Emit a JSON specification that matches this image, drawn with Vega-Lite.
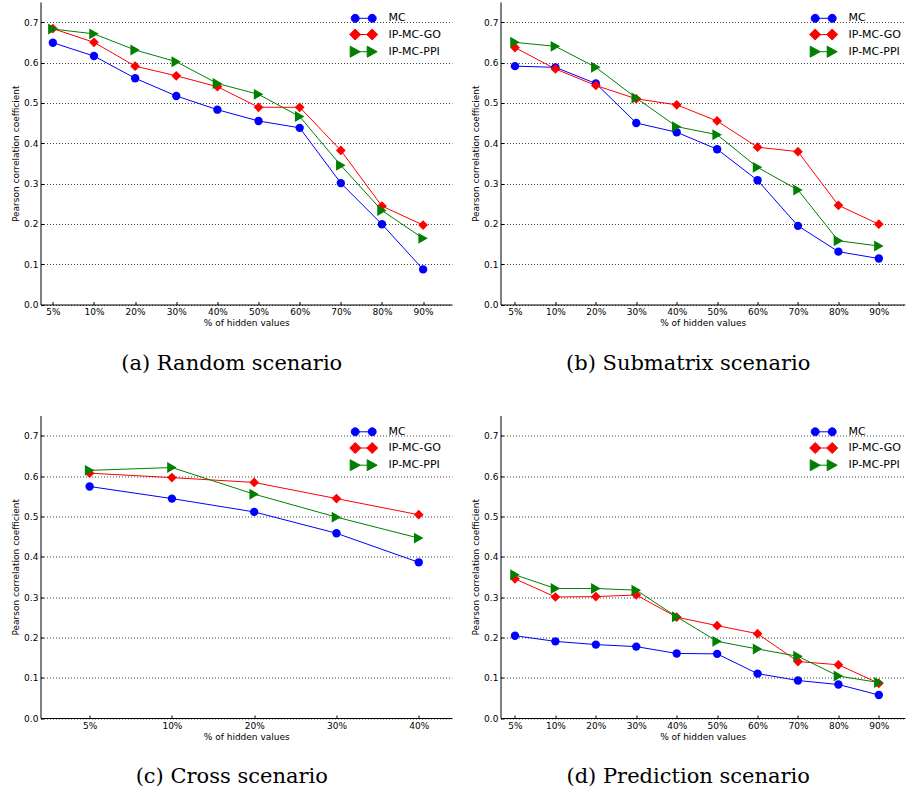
{
  "$schema": "https://vega.github.io/schema/vega-lite/v6.json",
  "padding": {"left": 11.5, "top": 2, "right": 0, "bottom": 0},
  "background": "white",
  "config": {
    "view": {"stroke": null},
    "font": "DejaVu Sans",
    "axis": {
      "labelFont": "DejaVu Sans", "titleFont": "DejaVu Sans",
      "labelFontSize": 9, "titleFontSize": 9, "titleFontWeight": "normal",
      "labelColor": "#000", "titleColor": "#000",
      "domainColor": "#000", "domainWidth": 1, "tickColor": "#000", "tickWidth": 1, "tickSize": -3
    },
    "axisX": {"grid": false, "labelAngle": 0, "labelPadding": 6, "titlePadding": 2, "zindex": 2},
    "axisY": {"gridColor": "#000", "gridOpacity": 0.75, "gridDash": [1, 2], "gridWidth": 1, "labelPadding": 5.6, "titlePadding": 3},
    "title": {"font": "DejaVu Serif", "fontSize": 21, "fontWeight": "normal", "orient": "bottom", "anchor": "middle", "frame": "bounds", "offset": 25, "color": "#000"},
    "legend": {"labelFont": "DejaVu Sans", "labelFontSize": 11, "labelColor": "#000", "title": null, "orient": "none", "legendX": 317.7, "legendY": 10.8, "rowPadding": 2.2, "labelOffset": 19.3, "symbolSize": 4, "symbolStrokeWidth": 1, "symbolOpacity": 1, "padding": 0}
  },
  "datasets": {
    "a": [
      {"x": "5%", "series": "MC", "v": 0.649}, {"x": "10%", "series": "MC", "v": 0.616}, {"x": "20%", "series": "MC", "v": 0.561}, {"x": "30%", "series": "MC", "v": 0.517}, {"x": "40%", "series": "MC", "v": 0.483}, {"x": "50%", "series": "MC", "v": 0.455}, {"x": "60%", "series": "MC", "v": 0.438}, {"x": "70%", "series": "MC", "v": 0.301}, {"x": "80%", "series": "MC", "v": 0.199}, {"x": "90%", "series": "MC", "v": 0.087},
      {"x": "5%", "series": "IP-MC-GO", "v": 0.684}, {"x": "10%", "series": "IP-MC-GO", "v": 0.65}, {"x": "20%", "series": "IP-MC-GO", "v": 0.591}, {"x": "30%", "series": "IP-MC-GO", "v": 0.567}, {"x": "40%", "series": "IP-MC-GO", "v": 0.54}, {"x": "50%", "series": "IP-MC-GO", "v": 0.489}, {"x": "60%", "series": "IP-MC-GO", "v": 0.489}, {"x": "70%", "series": "IP-MC-GO", "v": 0.382}, {"x": "80%", "series": "IP-MC-GO", "v": 0.244}, {"x": "90%", "series": "IP-MC-GO", "v": 0.197},
      {"x": "5%", "series": "IP-MC-PPI", "v": 0.683}, {"x": "10%", "series": "IP-MC-PPI", "v": 0.671}, {"x": "20%", "series": "IP-MC-PPI", "v": 0.631}, {"x": "30%", "series": "IP-MC-PPI", "v": 0.602}, {"x": "40%", "series": "IP-MC-PPI", "v": 0.548}, {"x": "50%", "series": "IP-MC-PPI", "v": 0.521}, {"x": "60%", "series": "IP-MC-PPI", "v": 0.466}, {"x": "70%", "series": "IP-MC-PPI", "v": 0.345}, {"x": "80%", "series": "IP-MC-PPI", "v": 0.233}, {"x": "90%", "series": "IP-MC-PPI", "v": 0.164}
    ],
    "b": [
      {"x": "5%", "series": "MC", "v": 0.591}, {"x": "10%", "series": "MC", "v": 0.588}, {"x": "20%", "series": "MC", "v": 0.548}, {"x": "30%", "series": "MC", "v": 0.45}, {"x": "40%", "series": "MC", "v": 0.427}, {"x": "50%", "series": "MC", "v": 0.385}, {"x": "60%", "series": "MC", "v": 0.308}, {"x": "70%", "series": "MC", "v": 0.195}, {"x": "80%", "series": "MC", "v": 0.131}, {"x": "90%", "series": "MC", "v": 0.114},
      {"x": "5%", "series": "IP-MC-GO", "v": 0.637}, {"x": "10%", "series": "IP-MC-GO", "v": 0.584}, {"x": "20%", "series": "IP-MC-GO", "v": 0.543}, {"x": "30%", "series": "IP-MC-GO", "v": 0.51}, {"x": "40%", "series": "IP-MC-GO", "v": 0.495}, {"x": "50%", "series": "IP-MC-GO", "v": 0.455}, {"x": "60%", "series": "IP-MC-GO", "v": 0.39}, {"x": "70%", "series": "IP-MC-GO", "v": 0.379}, {"x": "80%", "series": "IP-MC-GO", "v": 0.246}, {"x": "90%", "series": "IP-MC-GO", "v": 0.199},
      {"x": "5%", "series": "IP-MC-PPI", "v": 0.65}, {"x": "10%", "series": "IP-MC-PPI", "v": 0.64}, {"x": "20%", "series": "IP-MC-PPI", "v": 0.588}, {"x": "30%", "series": "IP-MC-PPI", "v": 0.512}, {"x": "40%", "series": "IP-MC-PPI", "v": 0.441}, {"x": "50%", "series": "IP-MC-PPI", "v": 0.421}, {"x": "60%", "series": "IP-MC-PPI", "v": 0.34}, {"x": "70%", "series": "IP-MC-PPI", "v": 0.284}, {"x": "80%", "series": "IP-MC-PPI", "v": 0.158}, {"x": "90%", "series": "IP-MC-PPI", "v": 0.145}
    ],
    "c": [
      {"x": "5%", "series": "MC", "v": 0.574}, {"x": "10%", "series": "MC", "v": 0.544}, {"x": "20%", "series": "MC", "v": 0.511}, {"x": "30%", "series": "MC", "v": 0.458}, {"x": "40%", "series": "MC", "v": 0.386},
      {"x": "5%", "series": "IP-MC-GO", "v": 0.607}, {"x": "10%", "series": "IP-MC-GO", "v": 0.596}, {"x": "20%", "series": "IP-MC-GO", "v": 0.584}, {"x": "30%", "series": "IP-MC-GO", "v": 0.544}, {"x": "40%", "series": "IP-MC-GO", "v": 0.504},
      {"x": "5%", "series": "IP-MC-PPI", "v": 0.614}, {"x": "10%", "series": "IP-MC-PPI", "v": 0.621}, {"x": "20%", "series": "IP-MC-PPI", "v": 0.555}, {"x": "30%", "series": "IP-MC-PPI", "v": 0.498}, {"x": "40%", "series": "IP-MC-PPI", "v": 0.446}
    ],
    "d": [
      {"x": "5%", "series": "MC", "v": 0.204}, {"x": "10%", "series": "MC", "v": 0.19}, {"x": "20%", "series": "MC", "v": 0.182}, {"x": "30%", "series": "MC", "v": 0.177}, {"x": "40%", "series": "MC", "v": 0.16}, {"x": "50%", "series": "MC", "v": 0.159}, {"x": "60%", "series": "MC", "v": 0.11}, {"x": "70%", "series": "MC", "v": 0.093}, {"x": "80%", "series": "MC", "v": 0.083}, {"x": "90%", "series": "MC", "v": 0.057},
      {"x": "5%", "series": "IP-MC-GO", "v": 0.345}, {"x": "10%", "series": "IP-MC-GO", "v": 0.3}, {"x": "20%", "series": "IP-MC-GO", "v": 0.301}, {"x": "30%", "series": "IP-MC-GO", "v": 0.305}, {"x": "40%", "series": "IP-MC-GO", "v": 0.25}, {"x": "50%", "series": "IP-MC-GO", "v": 0.229}, {"x": "60%", "series": "IP-MC-GO", "v": 0.209}, {"x": "70%", "series": "IP-MC-GO", "v": 0.14}, {"x": "80%", "series": "IP-MC-GO", "v": 0.132}, {"x": "90%", "series": "IP-MC-GO", "v": 0.086},
      {"x": "5%", "series": "IP-MC-PPI", "v": 0.355}, {"x": "10%", "series": "IP-MC-PPI", "v": 0.321}, {"x": "20%", "series": "IP-MC-PPI", "v": 0.321}, {"x": "30%", "series": "IP-MC-PPI", "v": 0.317}, {"x": "40%", "series": "IP-MC-PPI", "v": 0.251}, {"x": "50%", "series": "IP-MC-PPI", "v": 0.19}, {"x": "60%", "series": "IP-MC-PPI", "v": 0.171}, {"x": "70%", "series": "IP-MC-PPI", "v": 0.153}, {"x": "80%", "series": "IP-MC-PPI", "v": 0.104}, {"x": "90%", "series": "IP-MC-PPI", "v": 0.088}
    ]
  },
  "spacing": 41.5,
  "resolve": {"scale": {"color": "independent", "shape": "independent", "size": "independent", "stroke": "independent", "x": "independent", "y": "independent"}, "legend": {"color": "independent", "shape": "independent", "size": "independent", "stroke": "independent"}},
  "vconcat": [
    {
      "spacing": 19,
      "resolve": {"scale": {"color": "independent", "shape": "independent", "size": "independent", "stroke": "independent", "x": "independent", "y": "independent"}, "legend": {"color": "independent", "shape": "independent", "size": "independent", "stroke": "independent"}},
      "hconcat": [
        {
          "width": 411.4, "height": 302.5,
          "data": {"name": "a"},
          "title": {"text": "(a) Random scenario"},
          "resolve": {"scale": {"color": "independent", "shape": "independent", "stroke": "independent", "size": "independent"}},
          "encoding": {
            "x": {"field": "x", "type": "ordinal", "scale": {"type": "point", "domain": ["5%", "10%", "20%", "30%", "40%", "50%", "60%", "70%", "80%", "90%"], "paddingOuter": 0.5, "align": 0.3}, "axis": {"title": "% of hidden values"}},
            "y": {"field": "v", "type": "quantitative", "scale": {"domain": [0, 0.75], "nice": false}, "axis": {"title": "Pearson correlation coefficient", "values": [0, 0.1, 0.2, 0.3, 0.4, 0.5, 0.6, 0.7], "format": ".1f"}}
          },
          "layer": [
            {"mark": {"type": "line", "strokeWidth": 1},
             "encoding": {"order": {"value": null},
               "color": {"field": "series", "type": "nominal", "scale": {"domain": ["MC", "IP-MC-GO", "IP-MC-PPI"], "range": ["#0000ff", "#ff0000", "#008000"]}, "legend": null}}},
            {"mark": {"type": "point", "filled": true, "opacity": 1},
             "encoding": {
               "color": {"field": "series", "type": "nominal", "scale": {"domain": ["MC", "IP-MC-GO", "IP-MC-PPI"], "range": ["#0000ff", "#ff0000", "#008000"]}, "legend": null},
               "shape": {"field": "series", "type": "nominal", "scale": {"domain": ["MC", "IP-MC-GO", "IP-MC-PPI"], "range": ["circle", "diamond", "triangle-right"]}, "legend": null},
               "size": {"field": "series", "type": "nominal", "scale": {"domain": ["MC", "IP-MC-GO", "IP-MC-PPI"], "range": [70, 120, 100]}, "legend": null}}},
            {"transform": [{"filter": "datum.v < 0"}],
             "mark": {"type": "point", "filled": true, "opacity": 1},
             "encoding": {
               "color": {"field": "series", "type": "nominal", "scale": {"domain": ["MC", "IP-MC-GO", "IP-MC-PPI"], "range": ["#0000ff", "#ff0000", "#008000"]}, "legend": {}},
               "stroke": {"field": "series", "type": "nominal", "scale": {"domain": ["MC", "IP-MC-GO", "IP-MC-PPI"], "range": ["#0000ff", "#ff0000", "#008000"]}, "legend": {}},
               "shape": {"field": "series", "type": "nominal", "scale": {"domain": ["MC", "IP-MC-GO", "IP-MC-PPI"], "range": ["M-12.5,0A4,4 0 1,0 -4.5,0A4,4 0 1,0 -12.5,0ZM4.5,0A4,4 0 1,0 12.5,0A4,4 0 1,0 4.5,0ZM-8.5,0L8.5,0", "M-14,0L-8.5,-5.5L-3,0L-8.5,5.5ZM3,0L8.5,-5.5L14,0L8.5,5.5ZM-8.5,0L8.5,0", "M-13.5,-5.5L-3.5,0L-13.5,5.5ZM3.5,-5.5L13.5,0L3.5,5.5ZM-8.5,0L8.5,0"]}, "legend": {}}}}
          ]
        },
        {
          "width": 404.3, "height": 302.5,
          "data": {"name": "b"},
          "title": {"text": "(b) Submatrix scenario"},
          "resolve": {"scale": {"color": "independent", "shape": "independent", "stroke": "independent", "size": "independent"}},
          "encoding": {
            "x": {"field": "x", "type": "ordinal", "scale": {"type": "point", "domain": ["5%", "10%", "20%", "30%", "40%", "50%", "60%", "70%", "80%", "90%"], "paddingOuter": 0.4185, "align": 0.358}, "axis": {"title": "% of hidden values"}},
            "y": {"field": "v", "type": "quantitative", "scale": {"domain": [0, 0.75], "nice": false}, "axis": {"title": "Pearson correlation coefficient", "values": [0, 0.1, 0.2, 0.3, 0.4, 0.5, 0.6, 0.7], "format": ".1f"}}
          },
          "layer": [
            {"mark": {"type": "line", "strokeWidth": 1},
             "encoding": {"order": {"value": null},
               "color": {"field": "series", "type": "nominal", "scale": {"domain": ["MC", "IP-MC-GO", "IP-MC-PPI"], "range": ["#0000ff", "#ff0000", "#008000"]}, "legend": null}}},
            {"mark": {"type": "point", "filled": true, "opacity": 1},
             "encoding": {
               "color": {"field": "series", "type": "nominal", "scale": {"domain": ["MC", "IP-MC-GO", "IP-MC-PPI"], "range": ["#0000ff", "#ff0000", "#008000"]}, "legend": null},
               "shape": {"field": "series", "type": "nominal", "scale": {"domain": ["MC", "IP-MC-GO", "IP-MC-PPI"], "range": ["circle", "diamond", "triangle-right"]}, "legend": null},
               "size": {"field": "series", "type": "nominal", "scale": {"domain": ["MC", "IP-MC-GO", "IP-MC-PPI"], "range": [70, 120, 100]}, "legend": null}}},
            {"transform": [{"filter": "datum.v < 0"}],
             "mark": {"type": "point", "filled": true, "opacity": 1},
             "encoding": {
               "color": {"field": "series", "type": "nominal", "scale": {"domain": ["MC", "IP-MC-GO", "IP-MC-PPI"], "range": ["#0000ff", "#ff0000", "#008000"]}, "legend": {}},
               "stroke": {"field": "series", "type": "nominal", "scale": {"domain": ["MC", "IP-MC-GO", "IP-MC-PPI"], "range": ["#0000ff", "#ff0000", "#008000"]}, "legend": {}},
               "shape": {"field": "series", "type": "nominal", "scale": {"domain": ["MC", "IP-MC-GO", "IP-MC-PPI"], "range": ["M-12.5,0A4,4 0 1,0 -4.5,0A4,4 0 1,0 -12.5,0ZM4.5,0A4,4 0 1,0 12.5,0A4,4 0 1,0 4.5,0ZM-8.5,0L8.5,0", "M-14,0L-8.5,-5.5L-3,0L-8.5,5.5ZM3,0L8.5,-5.5L14,0L8.5,5.5ZM-8.5,0L8.5,0", "M-13.5,-5.5L-3.5,0L-13.5,5.5ZM3.5,-5.5L13.5,0L3.5,5.5ZM-8.5,0L8.5,0"]}, "legend": {}}}}
          ]
        }
      ]
    },
    {
      "spacing": 19,
      "resolve": {"scale": {"color": "independent", "shape": "independent", "size": "independent", "stroke": "independent", "x": "independent", "y": "independent"}, "legend": {"color": "independent", "shape": "independent", "size": "independent", "stroke": "independent"}},
      "hconcat": [
        {
          "width": 411.4, "height": 302.5,
          "data": {"name": "c"},
          "title": {"text": "(c) Cross scenario"},
          "resolve": {"scale": {"color": "independent", "shape": "independent", "stroke": "independent", "size": "independent"}},
          "encoding": {
            "x": {"field": "x", "type": "ordinal", "scale": {"type": "point", "domain": ["5%", "10%", "20%", "30%", "40%"], "paddingOuter": 0.254, "align": 0.597}, "axis": {"title": "% of hidden values"}},
            "y": {"field": "v", "type": "quantitative", "scale": {"domain": [0, 0.75], "nice": false}, "axis": {"title": "Pearson correlation coefficient", "values": [0, 0.1, 0.2, 0.3, 0.4, 0.5, 0.6, 0.7], "format": ".1f"}}
          },
          "layer": [
            {"mark": {"type": "line", "strokeWidth": 1},
             "encoding": {"order": {"value": null},
               "color": {"field": "series", "type": "nominal", "scale": {"domain": ["MC", "IP-MC-GO", "IP-MC-PPI"], "range": ["#0000ff", "#ff0000", "#008000"]}, "legend": null}}},
            {"mark": {"type": "point", "filled": true, "opacity": 1},
             "encoding": {
               "color": {"field": "series", "type": "nominal", "scale": {"domain": ["MC", "IP-MC-GO", "IP-MC-PPI"], "range": ["#0000ff", "#ff0000", "#008000"]}, "legend": null},
               "shape": {"field": "series", "type": "nominal", "scale": {"domain": ["MC", "IP-MC-GO", "IP-MC-PPI"], "range": ["circle", "diamond", "triangle-right"]}, "legend": null},
               "size": {"field": "series", "type": "nominal", "scale": {"domain": ["MC", "IP-MC-GO", "IP-MC-PPI"], "range": [70, 120, 100]}, "legend": null}}},
            {"transform": [{"filter": "datum.v < 0"}],
             "mark": {"type": "point", "filled": true, "opacity": 1},
             "encoding": {
               "color": {"field": "series", "type": "nominal", "scale": {"domain": ["MC", "IP-MC-GO", "IP-MC-PPI"], "range": ["#0000ff", "#ff0000", "#008000"]}, "legend": {}},
               "stroke": {"field": "series", "type": "nominal", "scale": {"domain": ["MC", "IP-MC-GO", "IP-MC-PPI"], "range": ["#0000ff", "#ff0000", "#008000"]}, "legend": {}},
               "shape": {"field": "series", "type": "nominal", "scale": {"domain": ["MC", "IP-MC-GO", "IP-MC-PPI"], "range": ["M-12.5,0A4,4 0 1,0 -4.5,0A4,4 0 1,0 -12.5,0ZM4.5,0A4,4 0 1,0 12.5,0A4,4 0 1,0 4.5,0ZM-8.5,0L8.5,0", "M-14,0L-8.5,-5.5L-3,0L-8.5,5.5ZM3,0L8.5,-5.5L14,0L8.5,5.5ZM-8.5,0L8.5,0", "M-13.5,-5.5L-3.5,0L-13.5,5.5ZM3.5,-5.5L13.5,0L3.5,5.5ZM-8.5,0L8.5,0"]}, "legend": {}}}}
          ]
        },
        {
          "width": 404.3, "height": 302.5,
          "data": {"name": "d"},
          "title": {"text": "(d) Prediction scenario"},
          "resolve": {"scale": {"color": "independent", "shape": "independent", "stroke": "independent", "size": "independent"}},
          "encoding": {
            "x": {"field": "x", "type": "ordinal", "scale": {"type": "point", "domain": ["5%", "10%", "20%", "30%", "40%", "50%", "60%", "70%", "80%", "90%"], "paddingOuter": 0.4185, "align": 0.358}, "axis": {"title": "% of hidden values"}},
            "y": {"field": "v", "type": "quantitative", "scale": {"domain": [0, 0.75], "nice": false}, "axis": {"title": "Pearson correlation coefficient", "values": [0, 0.1, 0.2, 0.3, 0.4, 0.5, 0.6, 0.7], "format": ".1f"}}
          },
          "layer": [
            {"mark": {"type": "line", "strokeWidth": 1},
             "encoding": {"order": {"value": null},
               "color": {"field": "series", "type": "nominal", "scale": {"domain": ["MC", "IP-MC-GO", "IP-MC-PPI"], "range": ["#0000ff", "#ff0000", "#008000"]}, "legend": null}}},
            {"mark": {"type": "point", "filled": true, "opacity": 1},
             "encoding": {
               "color": {"field": "series", "type": "nominal", "scale": {"domain": ["MC", "IP-MC-GO", "IP-MC-PPI"], "range": ["#0000ff", "#ff0000", "#008000"]}, "legend": null},
               "shape": {"field": "series", "type": "nominal", "scale": {"domain": ["MC", "IP-MC-GO", "IP-MC-PPI"], "range": ["circle", "diamond", "triangle-right"]}, "legend": null},
               "size": {"field": "series", "type": "nominal", "scale": {"domain": ["MC", "IP-MC-GO", "IP-MC-PPI"], "range": [70, 120, 100]}, "legend": null}}},
            {"transform": [{"filter": "datum.v < 0"}],
             "mark": {"type": "point", "filled": true, "opacity": 1},
             "encoding": {
               "color": {"field": "series", "type": "nominal", "scale": {"domain": ["MC", "IP-MC-GO", "IP-MC-PPI"], "range": ["#0000ff", "#ff0000", "#008000"]}, "legend": {}},
               "stroke": {"field": "series", "type": "nominal", "scale": {"domain": ["MC", "IP-MC-GO", "IP-MC-PPI"], "range": ["#0000ff", "#ff0000", "#008000"]}, "legend": {}},
               "shape": {"field": "series", "type": "nominal", "scale": {"domain": ["MC", "IP-MC-GO", "IP-MC-PPI"], "range": ["M-12.5,0A4,4 0 1,0 -4.5,0A4,4 0 1,0 -12.5,0ZM4.5,0A4,4 0 1,0 12.5,0A4,4 0 1,0 4.5,0ZM-8.5,0L8.5,0", "M-14,0L-8.5,-5.5L-3,0L-8.5,5.5ZM3,0L8.5,-5.5L14,0L8.5,5.5ZM-8.5,0L8.5,0", "M-13.5,-5.5L-3.5,0L-13.5,5.5ZM3.5,-5.5L13.5,0L3.5,5.5ZM-8.5,0L8.5,0"]}, "legend": {}}}}
          ]
        }
      ]
    }
  ]
}
